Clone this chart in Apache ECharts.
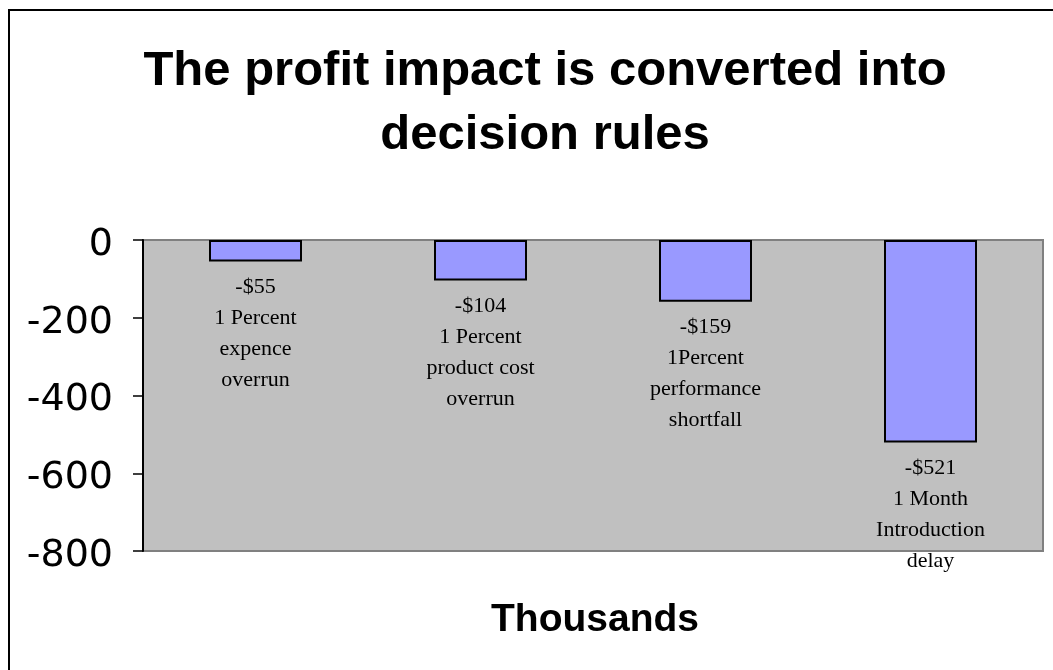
<!DOCTYPE html>
<html>
<head>
<meta charset="utf-8">
<script src="https://cdn.jsdelivr.net/npm/echarts@6/dist/echarts.min.js"></script>
<style>
html,body{margin:0;padding:0;background:#fff;}
#chart{width:1053px;height:670px;}
</style>
</head>
<body>
<div id="chart"></div>
<script>
const categories = ['1 Percent\nexpence\noverrun', '1 Percent\nproduct cost\noverrun', '1Percent\nperformance\nshortfall', '1 Month\nIntroduction\ndelay'];
const values = [-55, -104, -159, -521];
const valueLabels = ['-$55', '-$104', '-$159', '-$521'];
const yTicks = { min: -800, max: 0, interval: 200 };
const titleText = 'The profit impact is converted into\ndecision rules';
const axisTitle = 'Thousands';

const chart = echarts.init(document.getElementById('chart'), null, { renderer: 'canvas' });
chart.setOption({
  animation: false,
  backgroundColor: '#ffffff',
  title: [
    {
      text: titleText,
      left: 540,
      textAlign: 'center',
      top: 34,
      textStyle: { fontFamily: 'Liberation Sans', fontWeight: 'bold', fontSize: 49, lineHeight: 64, color: '#000' }
    },
    {
      text: axisTitle,
      left: 590,
      textAlign: 'center',
      top: 596,
      textStyle: { fontFamily: 'Liberation Sans', fontWeight: 'bold', fontSize: 39, color: '#000' }
    }
  ],
  graphic: [
    { type: 'rect', shape: { x: 9, y: 10, width: 1100, height: 700 }, style: { fill: 'none', stroke: '#000', lineWidth: 2 }, silent: true, z: 100 }
  ],
  grid: {
    left: 143, top: 240, right: 10, bottom: 119,
    show: true, backgroundColor: '#c0c0c0', borderColor: '#808080', borderWidth: 2
  },
  xAxis: {
    type: 'category',
    data: categories,
    axisLine: { show: false },
    axisTick: { show: false },
    axisLabel: { show: false },
    splitLine: { show: false }
  },
  yAxis: {
    type: 'value',
    min: yTicks.min, max: yTicks.max, interval: yTicks.interval,
    axisLine: { show: true, lineStyle: { color: '#000', width: 2 } },
    axisTick: { show: true, length: 10, lineStyle: { color: '#000', width: 1.5 } },
    axisLabel: {
      margin: 30, color: '#000',
      formatter: v => '{t|' + v + '}',
      rich: { t: { fontFamily: 'DejaVu Sans', fontSize: 38, color: '#000', padding: [10, 0, 0, 0] } }
    },
    splitLine: { show: false }
  },
  series: [{
    type: 'bar',
    data: values,
    barWidth: 93,
    itemStyle: { color: '#9999ff', borderColor: '#000', borderWidth: 2 },
    label: {
      show: true,
      position: 'outside',
      distance: 10,
      fontFamily: 'Liberation Serif',
      fontSize: 22,
      lineHeight: 31,
      color: '#000',
      align: 'center',
      formatter: p => valueLabels[p.dataIndex] + '\n' + categories[p.dataIndex]
    }
  }]
});
</script>
</body>
</html>
